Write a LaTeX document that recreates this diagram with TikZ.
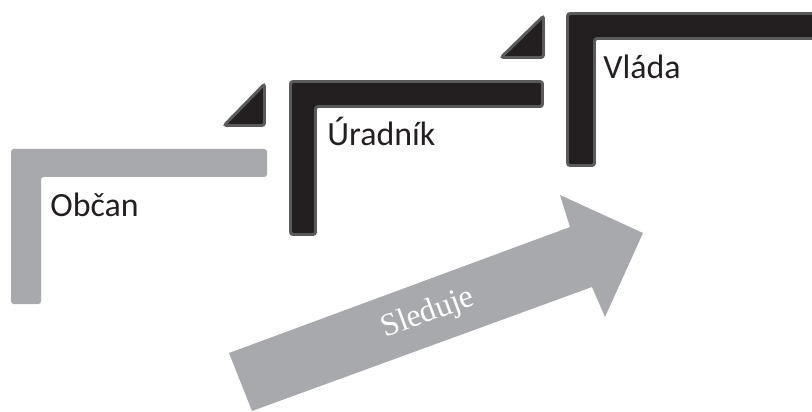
\documentclass[tikz,border=0pt]{standalone}
\usepackage{fontspec}
\setmainfont{Carlito}
\newfontfamily\arrowfont{Liberation Serif}
\usepackage{tikz}
\usetikzlibrary{positioning, calc}
\definecolor{steelgray}{HTML}{A8A9AD}
\definecolor{inkblack}{HTML}{231F20}
\definecolor{rimgray}{HTML}{5A5A5C}
\tikzstyle{plain}=[%
      rounded corners=1.5pt, fill=steelgray, draw=none
]
\tikzstyle{lvl}=[%
      rounded corners=1.5pt, fill=inkblack, draw=rimgray, line width=1.7pt
]
\tikzstyle{rank}=[%
      anchor=base west, inner sep=0pt, text=inkblack,
      font=\fontsize{19.3}{23}\selectfont
]
\begin{document}
\begin{tikzpicture}[x=0.02cm, y=-0.02cm]
    \useasboundingbox (0,0) rectangle (812,412);
    % steps
    \draw[plain] (11,304) -- (11,149) -- (267,149) -- (267,177) -- (41,177) -- (41,304) -- cycle;
    \draw[lvl] (290.5,234.5) -- (290.5,81.5) -- (542.5,81.5) -- (542.5,106.5) -- (315.5,106.5) -- (315.5,234.5) -- cycle;
    \draw[lvl] (567.5,165.5) -- (567.5,13.5) -- (816,13.5) -- (816,38.5) -- (594.5,38.5) -- (594.5,165.5) -- cycle;
    \draw[lvl] (264.5,84) -- (224,125.5) -- (264.5,125.5) -- cycle;
    \draw[lvl] (543.5,16) -- (501,57.5) -- (543.5,57.5) -- cycle;
    % inner corners
    \coordinate (c1) at (41,177);
    \coordinate (c2) at (317,108);
    \coordinate (c3) at (596,40);
    \node[rank] (obcan)  at ($(c1)+(9,39)$)  {Občan};
    \node[rank] (uradnik) at ($(c2)+(10,38)$) {Úradník};
    \node[rank] (vlada)  at ($(c3)+(7,39)$)  {Vláda};
    % arrow
    \fill[steelgray] (229,353) -- (570,227) -- (560,195) -- (643,233) -- (605,317) -- (592,287) -- (252,411) -- cycle;
    \node[text=white, rotate=20.3, font=\arrowfont\fontsize{18.3}{20}\selectfont] (sleduje) at (428,314) {Sleduje};
\end{tikzpicture}
\end{document}
